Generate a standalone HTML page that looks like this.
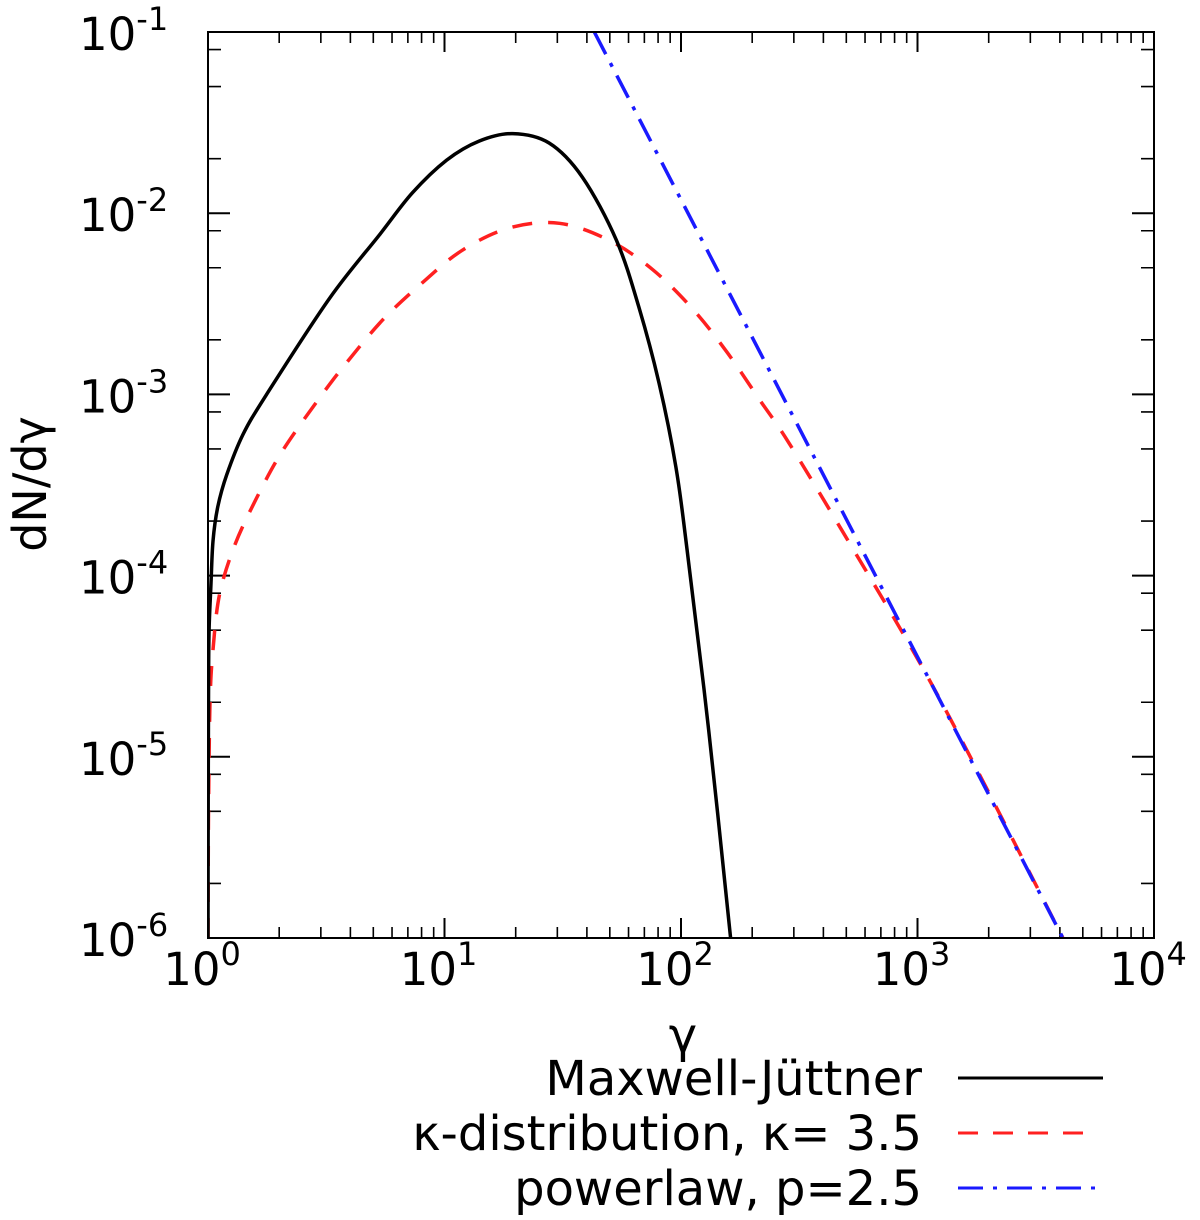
<!DOCTYPE html>
<html><head><meta charset="utf-8">
<style>
html,body{margin:0;padding:0;background:#fff;}
svg{display:block;font-family:"DejaVu Sans","Liberation Sans",sans-serif;}
</style></head>
<body>
<svg id="chart" width="1200" height="1220" viewBox="0 0 1200 1220" xmlns="http://www.w3.org/2000/svg">
<g id="ticks"></g>
<g id="labels"></g>
<defs><clipPath id="clip"><rect x="208" y="32" width="946" height="906"/></clipPath></defs>
<g id="series" clip-path="url(#clip)"></g>
<rect x="208" y="32" width="946" height="906" fill="none" stroke="#000" stroke-width="2"/>
<text transform="translate(46,484) rotate(-90)" text-anchor="middle" font-size="46">dN/dγ</text>
<text x="683" y="1052" text-anchor="middle" font-size="48">γ</text>
<g>
<text x="922" y="1095" text-anchor="end" font-size="48">Maxwell-Jüttner</text>
<line x1="958" y1="1078" x2="1103" y2="1078" stroke="#000" stroke-width="3"/>
<text x="922" y="1150" text-anchor="end" font-size="48">κ-distribution, κ= 3.5</text>
<line x1="958" y1="1133" x2="1090" y2="1133" stroke="#ff2020" stroke-width="3" stroke-dasharray="20,15"/>
<text x="922" y="1205" text-anchor="end" font-size="48">powerlaw, p=2.5</text>
<line x1="958" y1="1188" x2="1095" y2="1188" stroke="#1a1aff" stroke-width="3" stroke-dasharray="25,10,4,10"/>
</g>
</svg>
<script>
const mjGamma = [1.0, 1.002, 1.005, 1.01, 1.03, 1.05, 1.10, 1.20, 1.405, 1.77, 3.27, 5.31, 7.33, 10.2, 14.0, 19.4, 27.7, 38.3, 53.3, 66.5, 80.8, 95.1, 106, 131, 162];
const mjValues = [1e-6, 5.8e-6, 2.0e-5, 4.8e-5, 9.1e-5, 1.55e-4, 2.4e-4, 3.6e-4, 6.0e-4, 1.0e-3, 3.4e-3, 7.6e-3, 1.3e-2, 1.96e-2, 2.5e-2, 2.75e-2, 2.44e-2, 1.58e-2, 7.1e-3, 3.0e-3, 1.15e-3, 4.0e-4, 1.4e-4, 1.4e-5, 1e-6];
const kGamma = [1.0, 1.005, 1.02, 1.05, 1.12, 1.30, 1.61, 2.07, 2.97, 3.86, 5.47, 8.0, 11.9, 18.8, 30.6, 49.5, 75.6, 111, 155, 213, 286, 510, 1010, 1800, 4120];
const kValues = [1e-6, 5e-6, 2.0e-5, 3.9e-5, 7.9e-5, 1.48e-4, 2.7e-4, 4.9e-4, 9.6e-4, 1.5e-3, 2.57e-3, 4.1e-3, 6.25e-3, 8.3e-3, 8.8e-3, 7.1e-3, 4.9e-3, 3.0e-3, 1.74e-3, 9.5e-4, 5.4e-4, 1.55e-4, 3.4e-5, 8.3e-6, 1e-6];
const plGamma = [43, 4120];
const plValues = [1e-1, 1e-6];
const xTickExps = [0, 1, 2, 3, 4];
const yTickExps = [-1, -2, -3, -4, -5, -6];
const yMinorFactors = [2, 5, 8];

const L=208,R=1154,T=32,B=938;
const xMin=0,xMax=4,yMin=-6,yMax=-1;
function xs(g){return L+(Math.log10(g)-xMin)/(xMax-xMin)*(R-L);}
function ys(v){return B-(Math.log10(v)-yMin)/(yMax-yMin)*(B-T);}
const NS="http://www.w3.org/2000/svg";
function mk(tag,attrs,parent){const e=document.createElementNS(NS,tag);for(const k in attrs)e.setAttribute(k,attrs[k]);parent.appendChild(e);return e;}

const tg=document.getElementById('ticks');
const lg=document.getElementById('labels');
xTickExps.forEach(e=>{
  const x=xs(Math.pow(10,e));
  let t=mk('path',{d:`M${x},${B}v-20M${x},${T}v20`,stroke:'#000','stroke-width':2},tg);
  
  
  const tx=mk('text',{x:x-6,y:985,'text-anchor':'middle','font-size':45},lg);
  
  
  tx.textContent='10';
  const sp=mk('tspan',{dy:-20,'font-size':32},tx);
  sp.textContent=String(e);
  if(e<4){for(let k=2;k<=9;k++){const xm=xs(k*Math.pow(10,e));
    const m=mk('path',{d:`M${xm},${B}v-11M${xm},${T}v11`,stroke:'#000','stroke-width':1.6},tg);
    
    }}
});
yTickExps.forEach(e=>{
  const y=ys(Math.pow(10,e));
  const t=mk('path',{d:`M${L},${y}h22M${R},${y}h-22`,stroke:'#000','stroke-width':2},tg);
  
  
  const tx=mk('text',{x:79,y:y+18,'font-size':45},lg);
  
  
  tx.textContent='10';
  const sp=mk('tspan',{dy:-20,'font-size':32},tx);
  sp.textContent=String(e);
  if(e>-6){yMinorFactors.forEach(f=>{const ym=ys(f*Math.pow(10,e-1));
    const m=mk('path',{d:`M${L},${ym}h13M${R},${ym}h-13`,stroke:'#000','stroke-width':1.6},tg);
    
    });}
});
const sg=document.getElementById('series');
function pathFor(gs,vs){
  const p=gs.map((g,i)=>[xs(g),ys(vs[i])]);
  if(p.length<3) return 'M'+p.map(q=>q[0].toFixed(1)+','+q[1].toFixed(1)).join('L');
  let d='M'+p[0][0].toFixed(1)+','+p[0][1].toFixed(1);
  for(let i=0;i<p.length-1;i++){
    const p0=p[Math.max(0,i-1)],p1=p[i],p2=p[i+1],p3=p[Math.min(p.length-1,i+2)];
    const c1=[p1[0]+(p2[0]-p0[0])/6,p1[1]+(p2[1]-p0[1])/6];
    const c2=[p2[0]-(p3[0]-p1[0])/6,p2[1]-(p3[1]-p1[1])/6];
    d+=`C${c1[0].toFixed(1)},${c1[1].toFixed(1)} ${c2[0].toFixed(1)},${c2[1].toFixed(1)} ${p2[0].toFixed(1)},${p2[1].toFixed(1)}`;
  }
  return d;
}
let p1=mk('path',{d:pathFor(kGamma,kValues),fill:'none',stroke:'#ff2020','stroke-width':3.5,'stroke-dasharray':'20,16','stroke-linejoin':'round'},sg);


let p2=mk('path',{d:pathFor(plGamma,plValues),fill:'none',stroke:'#1a1aff','stroke-width':3.5,'stroke-dasharray':'25,10,4,10'},sg);


let p0=mk('path',{d:pathFor(mjGamma,mjValues),fill:'none',stroke:'#000','stroke-width':3.5,'stroke-linejoin':'round'},sg);


</script>
</body></html>
